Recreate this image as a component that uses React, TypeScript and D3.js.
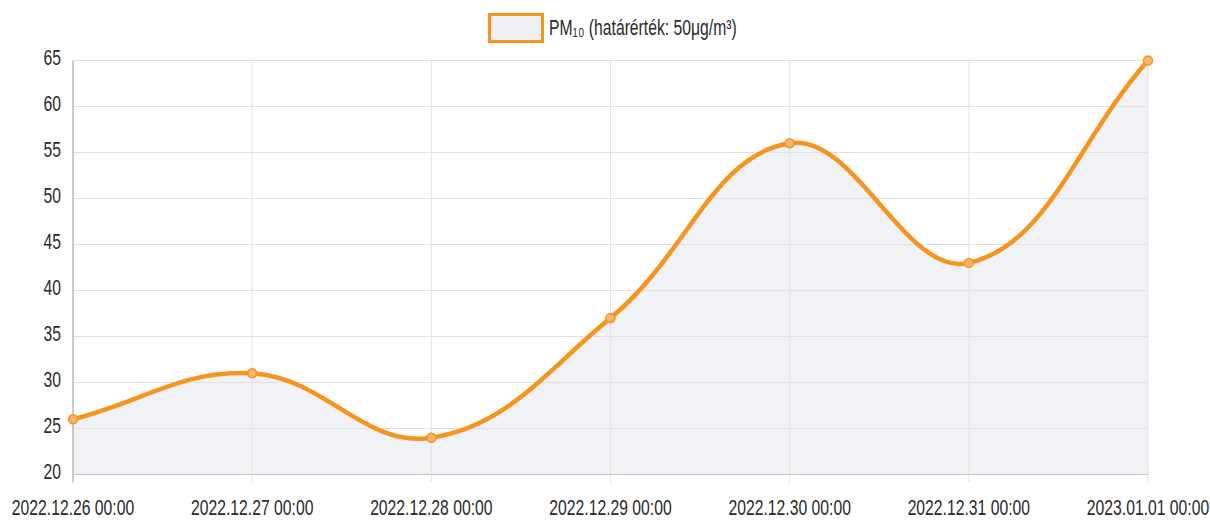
import React from "react";
import * as d3 from "d3";

const categories = [
  "2022.12.26 00:00",
  "2022.12.27 00:00",
  "2022.12.28 00:00",
  "2022.12.29 00:00",
  "2022.12.30 00:00",
  "2022.12.31 00:00",
  "2023.01.01 00:00",
];
const pm10Values = [26, 31, 24, 37, 56, 43, 65];
const yTicks = [20, 25, 30, 35, 40, 45, 50, 55, 60, 65];
const legendLabel = "PM₁₀ (határérték: 50μg/m³)";

const W = 1210;
const H = 521;
const left = 73;
const right = 1148;
const top = 60.5;
const bottom = 474.5;
const ORANGE = "#f7941d";
const FONT = "'Liberation Sans', Arial, sans-serif";
const SX = 0.69;
const FS = 22.8;

function splinePath(pts: [number, number][], t: number): string {
  const n = pts.length;
  const cps = pts.map((cur, i) => {
    const prev = pts[Math.max(0, i - 1)];
    const next = pts[Math.min(n - 1, i + 1)];
    const d01 = Math.hypot(cur[0] - prev[0], cur[1] - prev[1]);
    const d12 = Math.hypot(next[0] - cur[0], next[1] - cur[1]);
    let s01 = d01 / (d01 + d12);
    let s12 = d12 / (d01 + d12);
    if (isNaN(s01)) s01 = 0;
    if (isNaN(s12)) s12 = 0;
    const fa = t * s01;
    const fb = t * s12;
    const clampY = (y: number) => Math.max(top, Math.min(bottom, y));
    return {
      prev: [cur[0] - fa * (next[0] - prev[0]), clampY(cur[1] - fa * (next[1] - prev[1]))],
      next: [cur[0] + fb * (next[0] - prev[0]), clampY(cur[1] + fb * (next[1] - prev[1]))],
    };
  });
  const p = d3.path();
  p.moveTo(pts[0][0], pts[0][1]);
  for (let i = 1; i < n; i++) {
    const c1 = cps[i - 1].next;
    const c2 = cps[i].prev;
    p.bezierCurveTo(c1[0], c1[1], c2[0], c2[1], pts[i][0], pts[i][1]);
  }
  return p.toString();
}

export default function App() {
  const x = d3.scalePoint<string>().domain(categories).range([left, right]);
  const y = d3.scaleLinear().domain([20, 65]).range([bottom, top]);
  const pts: [number, number][] = categories.map((c, i) => [x(c)!, y(pm10Values[i])]);
  const linePath = splinePath(pts, 0.4);
  const areaPath = linePath + `L${pts[pts.length - 1][0]},${bottom}L${pts[0][0]},${bottom}Z`;

  return (
    <svg
      width={W}
      height={H}
      style={{ position: "absolute", left: 0, top: 0, background: "#fff" }}
      fontFamily={FONT}
    >
      <path d={areaPath} fill="#f0f2f6" />
      {yTicks.map((t) => (
        <line key={"h" + t} x1={left} x2={right} y1={y(t)} y2={y(t)} stroke="#e0e0e0" strokeWidth={1} />
      ))}
      {categories.map((c, i) =>
        i === 0 ? null : (
          <line key={"v" + c} x1={x(c)} x2={x(c)} y1={top} y2={bottom + 8} stroke="#e4e4e4" strokeWidth={1} />
        )
      )}
      <line x1={left} x2={left} y1={top} y2={bottom + 8} stroke="#a8a8a8" strokeWidth={1.2} />
      <line x1={left} x2={right} y1={bottom} y2={bottom} stroke="#c4c4c4" strokeWidth={1.2} />
      {yTicks.map((t) => (
        <text
          key={"yl" + t}
          transform={`translate(61,${y(t) - 2}) scale(${SX},1)`}
          textAnchor="end"
          dominantBaseline="middle"
          fontSize={FS}
          fill="#2a2a2a"
        >
          {t}
        </text>
      ))}
      {categories.map((c) => (
        <text
          key={"xl" + c}
          transform={`translate(${x(c)},515) scale(${SX},1)`}
          textAnchor="middle"
          fontSize={FS}
          fill="#2a2a2a"
        >
          {c}
        </text>
      ))}
      <path d={linePath} fill="none" stroke={ORANGE} strokeWidth={4.5} strokeLinejoin="round" />
      {pts.map((p, i) => (
        <circle key={"pt" + i} cx={p[0]} cy={p[1]} r={4.5} fill="#f6b46c" stroke={ORANGE} strokeWidth={1.5} />
      ))}
      <rect x={489.5} y={14.5} width={53} height={27} fill="#eef0f4" stroke={ORANGE} strokeWidth={3} />
      <text
        transform={`translate(549,35) scale(${SX},1)`}
        fontSize={FS}
        fill="#2a2a2a"
      >
        {legendLabel}
      </text>
    </svg>
  );
}
